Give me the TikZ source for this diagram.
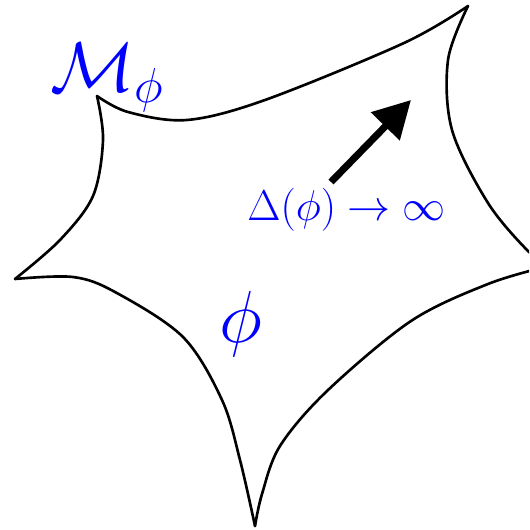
\documentclass[tikz,border=0pt]{standalone}
\usepackage{fix-cm}
\usepackage{xcolor}
\usepackage{amssymb}
\usepackage{tikz}
\usetikzlibrary{arrows.meta}

\begin{document}
\begin{tikzpicture}[x=0.02cm, y=-0.02cm,
  rim/.style={line width=1.5pt, line join=round, line cap=round},
  lbl/.style={text=blue, inner sep=0pt}]
\useasboundingbox (0,0) rectangle (529,530);
\clip (0,0) rectangle (529,530);
% the moduli space, edge by edge between the cusps
\draw[rim] plot[smooth, tension=0.55] coordinates {(97,96) (128,112) (187,120) (265,100) (404,43) (468,6)};
\draw[rim] plot[smooth, tension=0.55] coordinates {(468,6) (448,60) (452,130) (488,203) (528,251) (545,261)};
\draw[rim] plot[smooth, tension=0.55] coordinates {(545,267) (488,284) (411,321) (327,391) (280,446) (262,494) (255,526)};
\draw[rim] plot[smooth, tension=0.55] coordinates {(255,526) (240,460) (222,400) (183,337) (115,292) (73,277) (15,279)};
\draw[rim] plot[smooth, tension=0.55] coordinates {(15,279) (60,240) (93,196) (103,140) (97,96)};
% labels
\node[lbl, anchor=base west] (mlabel) at (50,92) {\fontsize{40}{48}\selectfont$\mathcal{M}_\phi$};
\node[lbl, anchor=base west] (dlabel) at (247,220) {\fontsize{24.5}{30}\selectfont$\Delta(\phi)\to\infty$};
\node[lbl, anchor=base] (philabel) at (241,342) {\fontsize{42}{50}\selectfont$\phi$};
% the arrow to the boundary
\coordinate (arrowtail) at (331,182);
\coordinate (arrowtip) at (411,100);
\draw[line width=4pt, -{Triangle[length=21pt, width=22pt]}] (arrowtail) -- (arrowtip);
\end{tikzpicture}
\end{document}
